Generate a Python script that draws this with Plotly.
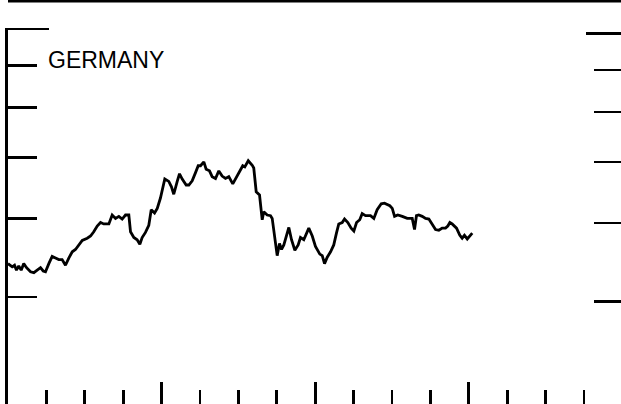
import plotly.graph_objects as go
import math

# months since start of the period
months = [0.0,0.33,0.51,0.66,0.84,1.03,1.23,1.45,1.76,2.02,
          2.28,2.54,2.75,2.93,3.19,3.45,3.71,3.97,4.23,4.49,
          4.75,5.02,5.27,5.53,5.80,6.19,6.45,6.70,6.97,7.23,
          7.48,7.88,8.14,8.40,8.66,8.92,9.18,9.44,9.57,9.83,
          10.09,10.30,10.48,10.74,11.00,11.19,11.45,11.66,11.91,12.25,
          12.56,12.77,12.95,13.22,13.40,13.61,13.92,14.13,14.39,14.65,
          14.86,15.04,15.30,15.48,15.74,15.95,16.21,16.47,16.73,16.99,
          17.25,17.56,17.83,18.09,18.34,18.50,18.77,19.08,19.20,19.39,
          19.65,19.86,19.98,20.25,20.51,20.64,20.84,21.03,21.21,21.37,
          21.55,21.81,21.94,22.15,22.41,22.67,22.85,23.11,23.50,23.77,
          24.02,24.36,24.55,24.73,24.94,25.20,25.45,25.66,25.84,26.11,
          26.29,26.55,26.81,27.02,27.23,27.48,27.67,27.93,28.32,28.58,
          28.84,29.16,29.41,29.83,30.02,30.20,30.45,30.80,31.19,31.58,
          31.76,31.91,32.09,32.36,32.62,32.88,33.14,33.40,33.66,33.92,
          34.18,34.36,34.52,34.70,35.04,35.30,35.48,35.66,35.88,36.08,36.27]

germany = [3.39,3.35,3.37,3.31,3.36,3.31,3.39,3.34,3.29,3.28,
           3.31,3.34,3.30,3.29,3.39,3.48,3.46,3.44,3.44,3.37,
           3.46,3.54,3.57,3.63,3.69,3.72,3.75,3.81,3.89,3.94,
           3.92,3.92,4.05,4.00,4.03,3.99,4.05,4.05,3.81,3.73,
           3.70,3.64,3.73,3.80,3.90,4.13,4.08,4.15,4.31,4.62,
           4.58,4.49,4.37,4.58,4.71,4.62,4.52,4.52,4.59,4.73,
           4.85,4.85,4.92,4.79,4.76,4.66,4.63,4.76,4.67,4.63,
           4.66,4.54,4.65,4.76,4.85,4.83,4.94,4.86,4.81,4.41,
           4.36,3.98,4.10,4.05,4.04,4.00,3.70,3.49,3.65,3.57,
           3.63,3.79,3.87,3.70,3.56,3.63,3.73,3.70,3.86,3.75,
           3.61,3.51,3.49,3.39,3.47,3.54,3.63,3.79,3.92,3.94,
           3.99,3.94,3.86,3.82,3.94,3.98,4.07,4.04,4.04,4.00,
           4.13,4.22,4.23,4.19,4.15,4.03,4.05,4.03,4.00,4.00,
           3.84,4.04,4.05,4.03,4.00,3.99,3.92,3.84,3.83,3.86,
           3.86,3.89,3.94,3.92,3.86,3.76,3.72,3.76,3.71,3.75,3.79]

year_ticks = [12, 24, 36]
quarter_ticks = [3, 6, 9, 15, 18, 21, 27, 30, 33, 39, 42, 45]
y_major = [8]
y_minor = [3, 4, 5, 6, 7]
label = "GERMANY"

y_lo, y_hi = 2.028, 8.03
shift = 0.00715

fig = go.Figure()
fig.add_trace(go.Scatter(x=months, y=germany, mode="lines",
                         line=dict(color="black", width=2.8),
                         showlegend=False, hoverinfo="skip"))
fig.add_trace(go.Scatter(x=months, y=germany, mode="lines", yaxis="y2",
                         opacity=0, line=dict(width=1),
                         showlegend=False, hoverinfo="skip"))

fig.update_layout(
    width=621, height=404,
    margin=dict(l=8, r=0, t=28, b=0, pad=0),
    paper_bgcolor="white", plot_bgcolor="white",
    xaxis=dict(range=[0, 47.89], showgrid=False, zeroline=False,
               showline=False, showticklabels=False,
               tickmode="array", tickvals=year_ticks,
               ticks="inside", ticklen=22, tickwidth=2.8, tickcolor="black",
               minor=dict(tickmode="array", tickvals=quarter_ticks,
                          ticks="inside", ticklen=14, tickwidth=2.8,
                          tickcolor="black", showgrid=False)),
    yaxis=dict(type="log", range=[math.log10(y_lo), math.log10(y_hi)],
               showgrid=False, zeroline=False, showticklabels=False,
               showline=True, linecolor="black", linewidth=3,
               tickmode="array", tickvals=y_major,
               ticks="inside", ticklen=41, tickwidth=2.6, tickcolor="black",
               minor=dict(tickmode="array", tickvals=y_minor,
                          ticks="inside", ticklen=29, tickwidth=2.6,
                          tickcolor="black", showgrid=False)),
    yaxis2=dict(type="log", overlaying="y", side="right",
                range=[math.log10(y_lo) + shift, math.log10(y_hi) + shift],
                showgrid=False, zeroline=False, showticklabels=False,
                showline=True, linecolor="#888888", linewidth=2,
                tickmode="array", tickvals=y_major,
                ticks="inside", ticklen=35, tickwidth=2.4, tickcolor="black",
                minor=dict(tickmode="array", tickvals=y_minor,
                           ticks="inside", ticklen=27, tickwidth=2.4,
                           tickcolor="black", showgrid=False)),
    shapes=[dict(type="line", xref="paper", yref="paper",
                 x0=0, x1=1.02, y0=1.0718, y1=1.0718,
                 line=dict(color="black", width=3))],
    annotations=[dict(text=label, xref="paper", yref="paper",
                      x=0.062, y=0.915, xanchor="left", yanchor="middle",
                      showarrow=False,
                      font=dict(family="Liberation Sans, Arial, sans-serif",
                                size=23, color="black"))],
)

fig.write_html("out.html",
               config={"displayModeBar": False, "staticPlot": True},
               post_script="document.body.style.margin='0';"
                           "document.body.style.overflow='hidden';")
